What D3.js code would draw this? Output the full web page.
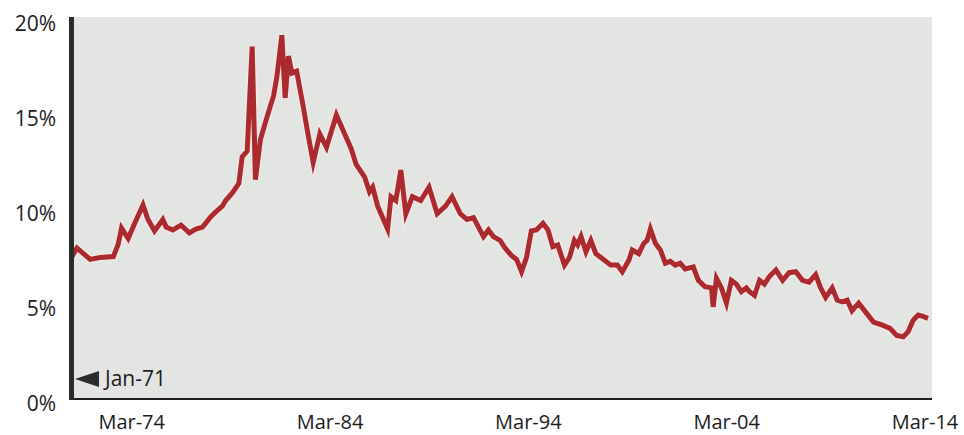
<!DOCTYPE html>
<html>
<head>
<meta charset="utf-8">
<script src="https://cdn.jsdelivr.net/npm/d3@7"></script>
<style>
  html, body { margin: 0; padding: 0; background: #ffffff; }
  svg { display: block; }
  text { font-family: "Open Sans", "Noto Sans", sans-serif; fill: #1c1c1c; }
</style>
</head>
<body>
<svg id="chart" width="964" height="435"></svg>
<script>
// Monthly rate series (percent), Jan 1971 – Mar 2014
const months = [
  "1971-01","1971-04","1971-08","1971-12","1972-06","1973-02","1973-05","1973-07","1973-11","1974-03",
  "1974-08","1974-11","1975-03","1975-08","1975-10","1976-02","1976-07","1976-12","1977-04","1977-08",
  "1978-01","1978-04","1978-08","1978-10","1979-02","1979-06","1979-08","1979-11","1980-02","1980-04",
  "1980-07","1980-11","1981-03","1981-05","1981-08","1981-10","1981-12","1982-02","1982-05","1982-09",
  "1982-12","1983-03","1983-07","1983-11","1984-05","1984-09","1985-02","1985-05","1985-10","1986-01",
  "1986-03","1986-06","1986-12","1987-02","1987-05","1987-08","1987-11","1988-03","1988-08","1989-01",
  "1989-06","1989-11","1990-03","1990-08","1990-12","1991-04","1991-10","1992-01","1992-04","1992-08",
  "1992-11","1993-03","1993-06","1993-09","1993-12","1994-03","1994-06","1994-10","1995-01","1995-04",
  "1995-07","1995-11","1996-02","1996-05","1996-07","1996-09","1996-12","1997-03","1997-06","1997-11",
  "1998-03","1998-07","1998-10","1999-02","1999-04","1999-08","1999-11","2000-01","2000-03","2000-06",
  "2000-09","2000-12","2001-03","2001-06","2001-09","2001-12","2002-05","2002-08","2002-12","2003-04",
  "2003-05","2003-07","2003-10","2004-01","2004-04","2004-07","2004-10","2005-01","2005-03","2005-06",
  "2005-09","2005-12","2006-03","2006-07","2006-11","2007-03","2007-07","2007-11","2008-03","2008-07",
  "2008-10","2009-01","2009-05","2009-08","2009-11","2010-02","2010-05","2010-09","2011-01","2011-06",
  "2011-11","2012-04","2012-08","2012-12","2013-03","2013-06","2013-09","2013-12","2014-03"
];
const rates = [
  7.55, 8.0, 7.7, 7.4, 7.5, 7.55, 8.2, 9.05, 8.5, 9.3,
  10.26, 9.5, 8.9, 9.5, 9.1, 8.95, 9.2, 8.8, 9.0, 9.1,
  9.65, 9.9, 10.2, 10.5, 10.9, 11.4, 12.8, 13.1, 18.6, 11.6,
  13.7, 14.9, 16.0, 17.0, 19.2, 15.9, 18.1, 17.2, 17.3, 15.4,
  13.9, 12.5, 14.0, 13.3, 15.0, 14.2, 13.2, 12.4, 11.75, 10.96,
  11.2, 10.2, 9.0, 10.7, 10.5, 12.1, 9.8, 10.7, 10.5, 11.2,
  9.8, 10.2, 10.7, 9.8, 9.5, 9.6, 8.6, 8.95, 8.6, 8.4,
  8.0, 7.6, 7.4, 6.75, 7.5, 8.9, 8.95, 9.3, 8.95, 8.07,
  8.16, 7.1, 7.5, 8.4, 8.16, 8.6, 7.8, 8.4, 7.7, 7.37,
  7.1, 7.1, 6.75, 7.37, 7.9, 7.7, 8.25, 8.4, 9.0, 8.25,
  7.9, 7.2, 7.3, 7.1, 7.2, 6.9, 7.0, 6.3, 5.96, 5.9,
  4.9, 6.4, 5.9, 5.1, 6.3, 6.1, 5.7, 5.9, 5.7, 5.5,
  6.3, 6.1, 6.5, 6.84, 6.3, 6.7, 6.75, 6.3, 6.2, 6.6,
  5.9, 5.4, 5.9, 5.26, 5.17, 5.26, 4.7, 5.1, 4.65, 4.1,
  3.95, 3.77, 3.4, 3.33, 3.6, 4.2, 4.47, 4.4, 4.3
];

// Axis ticks
const xTickMonths = ["1974-03", "1984-03", "1994-03", "2004-03", "2014-03"];
const xTickLabels = ["Mar-74", "Mar-84", "Mar-94", "Mar-04", "Mar-14"];
const yTickValues = [0, 5, 10, 15, 20];
const yTickLabels = ["0%", "5%", "10%", "15%", "20%"];

// Start-of-series annotation
const startMonth = "1971-01";
const startLabel = "Jan-71";
const startLabelLevel = 1.1;

const parse = d3.timeParse("%Y-%m");
const series = months.map((m, i) => ({ date: parse(m), value: rates[i] }));

const svg = d3.select("#chart");
const plot = { left: 72, right: 932, top: 17, bottom: 399 };

const x = d3.scaleTime()
  .domain([parse("1971-01"), parse("2014-03")])
  .range([72, 928]);
const y = d3.scaleLinear()
  .domain([0, 20])
  .range([400, 20]);

// Plot background
svg.append("rect")
  .attr("x", plot.left)
  .attr("y", plot.top)
  .attr("width", plot.right - plot.left)
  .attr("height", plot.bottom - plot.top)
  .attr("fill", "#e3e5e3");

// Rate line: pale halo underneath, red stroke on top
const line = d3.line()
  .x(d => x(d.date))
  .y(d => y(d.value));

svg.append("path")
  .datum(series)
  .attr("d", line)
  .attr("fill", "none")
  .attr("stroke", "#f6e8e8")
  .attr("stroke-width", 7.5)
  .attr("stroke-linejoin", "miter")
  .attr("stroke-miterlimit", 6)
  .attr("opacity", 0.8);

svg.append("path")
  .datum(series)
  .attr("d", line)
  .attr("fill", "none")
  .attr("stroke", "#aa2a2f")
  .attr("stroke-width", 5)
  .attr("stroke-linejoin", "miter")
  .attr("stroke-miterlimit", 6);

// Bottom axis line
svg.append("line")
  .attr("x1", 69).attr("x2", plot.right)
  .attr("y1", 399).attr("y2", 399)
  .attr("stroke", "#1e1e1e")
  .attr("stroke-width", 2.2);

// Heavy left axis bar
svg.append("rect")
  .attr("x", 69)
  .attr("y", plot.top)
  .attr("width", 5)
  .attr("height", 400 - plot.top)
  .attr("fill", "#2a2c2b");

// Y tick labels
svg.append("g")
  .selectAll("text")
  .data(yTickValues)
  .join("text")
  .attr("x", 56)
  .attr("y", d => y(d) + 11)
  .attr("text-anchor", "end")
  .attr("font-size", 21)
  .text((d, i) => yTickLabels[i]);

// X tick labels
svg.append("g")
  .selectAll("text")
  .data(xTickMonths)
  .join("text")
  .attr("x", d => x(parse(d)) - 3)
  .attr("y", 429)
  .attr("text-anchor", "middle")
  .attr("font-size", 20)
  .text((d, i) => xTickLabels[i]);

// Start marker: left-pointing triangle with label
const sx = x(parse(startMonth));
const sy = y(startLabelLevel);
svg.append("path")
  .attr("d", d3.line()([[sx + 3, sy], [sx + 27, sy - 8], [sx + 27, sy + 8]]) + "Z")
  .attr("fill", "#2a2c2b");
svg.append("text")
  .attr("x", sx + 33)
  .attr("y", sy + 7)
  .attr("font-size", 21)
  .attr("font-weight", 500)
  .text(startLabel);
</script>
</body>
</html>
